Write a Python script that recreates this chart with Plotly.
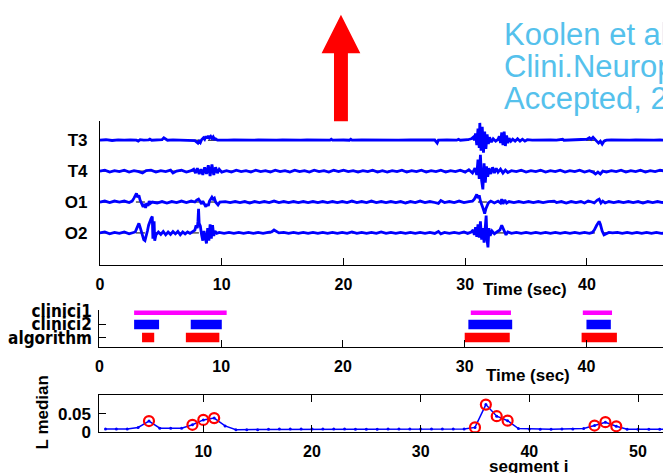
import plotly.graph_objects as go

W, H = 663, 473

# ---------------- DATA ----------------
channels = ["T3", "T4", "O1", "O2"]

T3 = [(0,0),(0.5,0.5),(1,-0.3),(1.5,0.3),(2,0),(2.5,0.4),(3,0),(3.15,-1),(3.3,0.5),(3.6,0),(4.0,0.3),(4.1,1.2),(4.25,0),(4.7,0.4),(5.1,0.5),(5.25,2.5),(5.4,1),(5.55,0),(6,0.3),(6.5,0),(7,0.4),(7.5,0),(7.8,-0.5),(7.95,-2),(8.05,-3),(8.15,-1),(8.25,-2.5),(8.35,0.5),(8.5,2.5),(8.6,1),(8.7,4),(8.8,2),(8.9,4.5),(9.0,2.5),(9.1,4),(9.2,2),(9.3,3.5),(9.4,1),(9.5,1.5),(9.65,0),(10,0.3),(10.5,0),(11,0.3),(11.5,0),(12,0.3),(12.5,0),(13,0.2),(13.5,0),(14,0.3),(14.5,0),(15,0.2),(15.5,0),(16,0.3),(16.5,0),(17,0.2),(17.5,0),(18,0.3),(18.5,0),(18.9,0),(19.0,1),(19.1,0),(20,0.2),(20.5,0),(20.6,1),(20.7,0),(21.5,0.3),(22.5,0),(23.5,0.3),(24.5,0),(25.5,0.3),(26.5,0),(27.5,0.2),(27.7,-3),(27.8,0),(28.5,0.3),(29.3,0),(29.45,1),(29.6,0),(30.2,0.5),(30.5,1.5),(30.65,3),(30.75,0),(30.85,7),(30.95,-5),(31.05,12),(31.15,-8),(31.2,18),(31.3,-11),(31.4,14),(31.5,-13),(31.6,9),(31.7,-9),(31.8,6),(31.9,-4),(32.0,3),(32.15,-2),(32.3,1.5),(32.5,-1),(32.7,1),(32.8,4),(32.9,-3),(33.0,8),(33.1,-5),(33.2,9),(33.3,-6),(33.4,5),(33.5,-3),(33.6,2),(33.75,-1),(33.9,1),(34.1,-1),(34.3,1.5),(34.5,-1),(34.7,1),(34.9,-1),(35.1,0.5),(35.5,0),(36,0.3),(36.5,0),(37,0.3),(37.5,0),(37.9,0.3),(38.0,1),(38.1,0),(38.6,0.3),(39.2,0),(39.7,0.3),(40.0,1),(40.2,2.5),(40.35,1),(40.5,3),(40.65,1),(40.8,-1),(40.95,-3),(41.1,-1),(41.25,-4),(41.4,-1),(41.6,0),(42,0.3),(42.5,0),(43,0.3),(43.5,0),(44,0.3),(44.5,0),(45,0.3),(45.5,0),(46,0.3),(46.5,0)]

T4 = [(0,0),(0.4,1),(0.8,-1),(1.2,0.5),(1.6,-0.5),(2.0,1),(2.4,-1),(2.8,0.5),(3.2,-0.5),(3.5,-2),(3.8,0.5),(4.2,1),(4.6,-1),(5.0,0.5),(5.4,-0.5),(5.8,1),(6.0,-2),(6.3,0),(6.7,1),(7.1,-1),(7.5,0.5),(7.7,2),(7.85,-2),(8.0,3),(8.15,-3),(8.3,2),(8.45,-4),(8.6,4),(8.75,-3),(8.9,6),(9.05,-5),(9.2,7),(9.35,-4),(9.5,4),(9.65,-2),(9.8,2),(10.0,-1),(10.4,0.5),(10.8,-1),(11.2,1),(11.6,-0.5),(12.0,0.5),(12.4,-1),(12.8,1),(13.2,-0.5),(13.6,0.5),(14.0,-1),(14.4,1),(14.8,-0.5),(15.2,0.5),(15.6,-1),(16.0,1),(16.4,-0.5),(16.8,0.5),(17.2,-1),(17.6,1),(18.0,-0.5),(18.4,0.5),(18.8,-1),(19.2,1),(19.6,-0.5),(20.0,1),(20.4,-0.5),(20.8,0.5),(21.2,-1),(21.6,0.5),(22.0,-0.5),(22.4,1),(22.8,-1),(23.2,0.5),(23.6,-1),(24.0,0.5),(24.4,-0.5),(24.8,1),(25.2,-1),(25.6,0.5),(26.0,-0.5),(26.4,1),(26.8,-1),(27.2,0.5),(27.6,-0.5),(28.0,1),(28.4,-1),(28.8,0.5),(29.2,-0.5),(29.6,1),(30.0,-1),(30.3,1.5),(30.6,-2),(30.8,3),(30.95,-4),(31.05,12),(31.15,-8),(31.25,17),(31.35,-10),(31.45,-19),(31.55,8),(31.65,-12),(31.75,5),(31.85,-6),(31.95,3),(32.1,-3),(32.25,4),(32.4,-2),(32.55,3),(32.7,-1),(32.9,2),(33.1,-2),(33.3,1),(33.5,-1.5),(33.8,0.5),(34.2,-0.5),(34.6,1),(35.0,-1),(35.4,0.5),(35.8,-0.5),(36.2,1),(36.6,-1),(37.0,0.5),(37.4,-0.5),(37.8,1),(38.2,-1),(38.6,0.5),(39.0,-0.5),(39.4,1),(39.8,-1),(40.2,0.5),(40.5,-1),(40.7,-3),(40.9,-1),(41.1,-3),(41.3,0),(41.6,-1),(42.0,0.5),(42.4,-0.5),(42.8,1),(43.2,-1),(43.6,0.5),(44.0,-0.5),(44.4,1),(44.8,-1),(45.2,0.5),(45.6,-0.5),(46.0,1),(46.4,0)]

O1 = [(0,0),(0.4,1),(0.8,-0.5),(1.2,1),(1.6,0),(2.0,1),(2.4,-0.5),(2.65,1),(2.8,4),(2.9,7),(3.0,9),(3.1,5),(3.2,7),(3.3,2),(3.45,-2),(3.55,-5),(3.65,-2),(3.75,-6),(3.85,-1),(3.95,-4),(4.05,1),(4.15,-1.5),(4.3,0),(4.7,-1),(5.1,0.5),(5.5,-1),(5.9,0.5),(6.3,-0.5),(6.7,1),(7.1,-0.5),(7.5,1),(7.8,0),(7.95,2),(8.1,3),(8.2,1),(8.35,-2),(8.45,1),(8.6,-3),(8.7,-5),(8.8,-2),(8.9,-4),(9.0,1),(9.1,3),(9.2,5),(9.3,3),(9.4,4),(9.5,0),(9.6,-2),(9.7,-3),(9.85,0),(10.3,0.5),(10.7,-0.5),(11.1,0.5),(11.5,-0.5),(11.9,0.5),(12.3,-1),(12.7,0.5),(13.1,-0.5),(13.5,0.5),(13.9,-0.5),(14.3,1),(14.7,-0.5),(15.1,0.5),(15.5,-0.5),(15.9,0.5),(16.3,-0.5),(16.7,0.5),(17.1,-0.5),(17.5,0.5),(17.9,-0.5),(18.3,0.5),(18.7,-0.5),(19.1,0.5),(19.5,-0.5),(19.9,0.5),(20.3,-0.5),(20.7,1),(21.1,-0.5),(21.5,0.5),(21.9,-0.5),(22.3,1),(22.7,-0.5),(23.1,0.5),(23.5,-0.5),(23.9,0.5),(24.3,-0.5),(24.7,0.5),(25.1,-1),(25.5,0.5),(25.9,-0.5),(26.3,1),(26.7,-0.5),(27.1,0.5),(27.5,-0.5),(27.8,-1.5),(28.0,1.5),(28.3,-0.5),(28.7,0.5),(29.1,-0.5),(29.5,1),(29.9,-0.5),(30.3,0.5),(30.6,1),(30.75,3),(30.85,6),(30.95,8),(31.05,4),(31.15,7),(31.25,1),(31.35,-4),(31.45,-6),(31.55,-10),(31.6,-12),(31.7,-7),(31.8,-4),(31.9,-1),(32.1,1),(32.4,-1),(32.7,1),(32.9,-1),(33.0,3),(33.1,-2),(33.25,2),(33.4,-1),(33.6,0.5),(34.0,-0.5),(34.4,0.5),(34.8,-0.5),(35.2,0.5),(35.6,-0.5),(36.0,0.5),(36.4,-0.5),(36.8,0.5),(37.3,1),(37.5,-0.5),(37.9,0.5),(38.3,-1),(38.7,0.5),(39.1,-0.5),(39.5,0.5),(39.8,-1),(40.1,1),(40.4,0),(40.6,-1),(40.85,2),(41.0,3),(41.15,-1),(41.3,1),(41.5,-1),(41.8,0.5),(42.2,-0.5),(42.6,0.5),(43.0,-0.5),(43.4,0.5),(43.8,-0.5),(44.2,0.5),(44.6,-1),(45.0,0.5),(45.4,-0.5),(45.8,0.5),(46.2,-0.5),(46.6,0)]

O2 = [(0,0),(0.4,1),(0.8,-1),(1.2,0.5),(1.6,-0.5),(2.0,1),(2.4,-1),(2.7,0.5),(2.9,1),(3.0,4),(3.1,8),(3.2,10),(3.3,6),(3.4,2),(3.5,-3),(3.6,-7),(3.7,-8),(3.8,-4),(3.9,2),(4.0,8),(4.1,12),(4.2,15),(4.3,17),(4.35,-6),(4.45,12),(4.5,-8),(4.6,-2),(4.8,1),(5.0,-1.5),(5.2,1.5),(5.4,-2),(5.6,1),(5.8,-1.5),(6.0,1.5),(6.2,-1),(6.4,1.5),(6.6,-2),(6.8,1),(7.0,-1),(7.2,1),(7.4,-0.5),(7.6,1),(7.8,3),(7.9,8),(8.0,5),(8.05,12),(8.1,25),(8.15,10),(8.25,7),(8.35,-2),(8.45,-8),(8.55,2),(8.65,-4),(8.75,-11),(8.85,5),(8.95,-8),(9.05,9),(9.15,-6),(9.25,8),(9.35,-3),(9.45,2),(9.6,-0.5),(9.8,0.5),(10.2,-0.5),(10.6,0.5),(11.0,-0.5),(11.4,0.5),(11.8,-0.5),(12.2,0.5),(12.6,-0.5),(13.0,0.5),(13.4,-0.5),(13.8,0.5),(14.1,1),(14.3,3),(14.5,1.5),(14.7,0),(15.1,0.5),(15.5,-0.5),(15.9,0.5),(16.3,-0.5),(16.7,0.5),(17.1,-0.5),(17.5,0.5),(17.9,-0.5),(18.3,0.5),(18.7,-0.5),(19.1,0.5),(19.5,-0.5),(19.9,0.5),(20.3,-0.5),(20.7,1),(21.1,-0.5),(21.5,0.5),(21.9,-0.5),(22.3,0.5),(22.7,-0.5),(23.1,1),(23.5,-0.5),(23.9,0.5),(24.3,-0.5),(24.7,0.5),(25.1,-0.5),(25.5,0.5),(25.9,-0.5),(26.3,0.5),(26.7,-0.5),(27.1,0.5),(27.5,-0.5),(27.8,1.5),(28.0,-1),(28.3,0.5),(28.7,-0.5),(29.1,0.5),(29.5,-0.5),(29.9,1),(30.2,-0.5),(30.5,1),(30.65,3),(30.75,-2),(30.85,6),(30.95,-4),(31.05,9),(31.15,-5),(31.25,12),(31.35,-7),(31.45,5),(31.55,-10),(31.65,8),(31.72,18),(31.8,-8),(31.87,-15),(31.95,5),(32.05,-3),(32.2,2),(32.4,-1),(32.6,1),(32.85,3),(33.0,8),(33.1,5),(33.2,2),(33.35,-2),(33.5,1),(33.8,-0.5),(34.2,0.5),(34.6,-0.5),(35.0,0.5),(35.4,-0.5),(35.8,0.5),(36.2,-0.5),(36.6,0.5),(37.0,-0.5),(37.4,0.5),(37.8,-0.5),(38.2,0.5),(38.6,-0.5),(39.0,0.5),(39.4,-0.5),(39.8,0.5),(40.2,-0.5),(40.45,0.5),(40.6,3),(40.8,8),(41.0,12),(41.1,9),(41.25,2),(41.4,-2),(41.6,-1),(41.8,0.5),(42.1,0),(42.5,0.5),(42.9,-0.5),(43.3,0.5),(43.7,-0.5),(44.1,0.5),(44.5,-0.5),(44.9,0.5),(45.3,-0.5),(45.7,0.5),(46.1,-0.5),(46.5,0)]

eeg = {"T3": T3, "T4": T4, "O1": O1, "O2": O2}

# annotations (start, end) in seconds
annotators = ["clinici1", "clinici2", "algorithm"]
clinici1_events = [(2.85, 10.45), (30.5, 33.8), (39.7, 42.1)]
clinici2_events = [(2.85, 4.9), (7.5, 10.05), (30.3, 33.9), (40.0, 42.0)]
algorithm_events = [(3.5, 4.5), (7.1, 9.85), (30.0, 33.7), (39.6, 42.5)]

# line-length median per segment
segments = list(range(1, 54))
l_median = [0.009, 0.009, 0.009, 0.013, 0.030, 0.011, 0.011, 0.011, 0.020, 0.033,
            0.038, 0.017, 0.007, 0.007, 0.007, 0.008, 0.009, 0.009, 0.009, 0.009,
            0.009, 0.009, 0.009, 0.008, 0.008, 0.008, 0.009, 0.009, 0.009, 0.009,
            0.009, 0.009, 0.009, 0.009, 0.013, 0.074, 0.043, 0.031, 0.010, 0.009,
            0.008, 0.008, 0.009, 0.009, 0.010, 0.018, 0.027, 0.016, 0.008, 0.008,
            0.008, 0.008, 0.008]
detected = [5, 9, 10, 11, 35, 36, 37, 38, 46, 47, 48]

citation_lines = ["Koolen et al.,", "Clini.Neurophysiol.", "Accepted, 2014"]

# ---------------- FIGURE ----------------
def px(x):
    return x / W

def py(y):
    return 1 - y / H

BOLD = dict(family="Arial, Liberation Sans, sans-serif", size=16, color="black", weight="bold")
NARROW = dict(family="Liberation Sans Narrow, Arial Narrow, DejaVu Sans Condensed, sans-serif",
              size=17, color="black", weight="bold")
BLUE = "#0000FF"
SPACING = 32.2

fig = go.Figure()

# top panel: EEG traces
for i, ch in enumerate(channels):
    off = SPACING * (len(channels) - 1 - i)
    pts = eeg[ch]
    fig.add_trace(go.Scatter(x=[0, 47], y=[off, off], mode="lines",
                             line=dict(color="black", width=1, dash="dash"),
                             xaxis="x", yaxis="y", showlegend=False, hoverinfo="skip"))
    fig.add_trace(go.Scatter(x=[p[0] for p in pts], y=[off + p[1] for p in pts],
                             mode="lines", line=dict(color=BLUE, width=2.8),
                             xaxis="x", yaxis="y", showlegend=False))

# middle panel: event bars
bar_sets = [("clinici1", clinici1_events, "#FF00FF", 0.55),
            ("clinici2", clinici2_events, BLUE, 0.72),
            ("algorithm", algorithm_events, "#FF0000", 0.72)]
for name, ev, col, wdt in bar_sets:
    row = 3 - annotators.index(name)
    fig.add_trace(go.Bar(y=[row] * len(ev), x=[e[1] - e[0] for e in ev],
                         base=[e[0] for e in ev], orientation="h", width=wdt,
                         marker=dict(color=col, line=dict(width=0)),
                         xaxis="x2", yaxis="y2", showlegend=False))

# bottom panel: L median
fig.add_trace(go.Scatter(x=segments, y=l_median, mode="lines+markers",
                         line=dict(color=BLUE, width=1.5),
                         marker=dict(color=BLUE, size=3),
                         xaxis="x3", yaxis="y3", showlegend=False))
fig.add_trace(go.Scatter(x=detected, y=[l_median[s - 1] for s in detected], mode="markers",
                         marker=dict(symbol="circle-open", color="#FF0000", size=10,
                                     line=dict(width=2.2, color="#FF0000")),
                         xaxis="x3", yaxis="y3", showlegend=False))

axis_common = dict(showgrid=False, zeroline=False, showline=True, linecolor="black",
                   linewidth=1, tickfont=BOLD, ticks="inside", ticklen=7,
                   tickcolor="black")

x_sec_range_top = [0, (W - 96.5) / 12.25]
x_sec_range_mid = [0, (W - 96.0) / 12.25]

fig.update_layout(
    width=W, height=H, margin=dict(l=0, r=0, t=0, b=0),
    paper_bgcolor="white", plot_bgcolor="white", barmode="overlay",
    showlegend=False,
    xaxis=dict(axis_common, domain=[px(96.5), 1], range=x_sec_range_top,
               tickvals=[0, 10, 20, 30, 40], anchor="y", ticklabelstandoff=5),
    yaxis=dict(axis_common, domain=[py(266.7), py(117)], range=[-33.4, 116.3],
               tickvals=[SPACING * (len(channels) - 1 - i) for i in range(len(channels))],
               ticktext=channels, ticks="", anchor="x", ticklabelstandoff=8,
               tickfont=dict(BOLD, size=17)),
    xaxis2=dict(axis_common, domain=[px(96), 1], range=x_sec_range_mid,
                tickvals=[0, 10, 20, 30, 40], anchor="y2", ticklabelstandoff=5),
    yaxis2=dict(axis_common, domain=[py(352.3), py(314)], range=[0.27, 3.07],
                tickvals=[3, 2, 1], ticktext=annotators, anchor="x2",
                ticklabelstandoff=3, tickfont=NARROW),
    xaxis3=dict(axis_common, domain=[px(96), 1], range=[0.44, 52.3],
                tickvals=[10, 20, 30, 40, 50], anchor="y3", mirror="ticks",
                ticklabelstandoff=5),
    yaxis3=dict(axis_common, domain=[py(441), py(402)], range=[0, 0.1],
                tickvals=[0, 0.05], ticktext=["0", "0.05"], anchor="x3",
                ticklabelstandoff=4, tickfont=dict(BOLD, size=17)),
)

# axis titles as annotations
for txt, xc, yc in [("Time (sec)", 524, 292), ("Time (sec)", 527, 382), ("segment i", 528, 477)]:
    fig.add_annotation(text=txt, x=px(xc), y=py(yc), xref="paper", yref="paper",
                       showarrow=False, xanchor="center", yanchor="middle",
                       font=dict(BOLD, size=17))
fig.add_annotation(text="L median", x=px(38.5), y=py(420), xref="paper", yref="paper",
                   showarrow=False, textangle=-90, xanchor="center", yanchor="middle",
                   font=dict(BOLD, size=17))

# citation text, one annotation per line
for k, line in enumerate(citation_lines):
    fig.add_annotation(text=line, x=px(501), y=py(27 + 33 * k), xref="paper", yref="paper",
                       showarrow=False, xanchor="left", yanchor="middle", align="left",
                       font=dict(family="Arial, Liberation Sans, sans-serif", size=31,
                                 color="#55C1EC"))

# red arrow
arrow_pts = [(332, 117), (346, 117), (346, 46), (358.5, 46), (339, 6), (319.5, 46), (332, 46)]
path = "M " + " L ".join(f"{px(a):.5f},{py(b):.5f}" for a, b in arrow_pts) + " Z"
fig.add_shape(type="path", path=path, xref="paper", yref="paper",
              fillcolor="#FF0000", line=dict(width=0))

fig.write_html("out.html")
